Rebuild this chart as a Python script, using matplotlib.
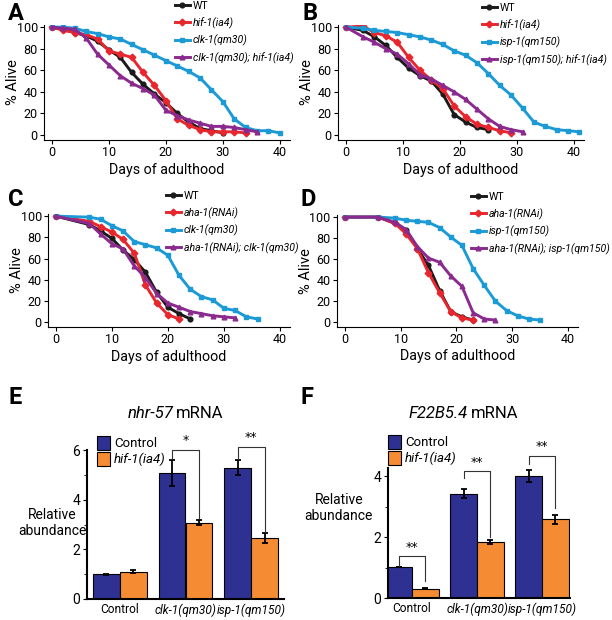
import numpy as np
import matplotlib
matplotlib.use('Agg')
import matplotlib.pyplot as plt
from matplotlib.patches import Patch

plt.rcParams['font.family'] = ['Roboto', 'DejaVu Sans']

# colours
BLACK = '#1a1a1a'
RED = '#e8262d'
BLUE = '#1b9ad6'
PURPLE = '#8b2a8e'
NAVY = '#2e3192'
ORANGE = '#f58b33'

# ---- panel A: clk-1 / hif-1 lifespan
a_days_wt = [0, 2, 4, 6, 8, 10, 12, 14, 16, 18, 20, 22, 24, 26, 28, 30]
a_wt = [100, 98, 95, 92, 87, 79, 72, 58, 47, 38, 30, 20, 12, 6, 4, 2]
a_days_hif = [0, 2, 4, 6, 8, 10, 12, 14, 16, 18, 20, 22, 24, 26, 28, 30, 32, 34]
a_hif = [100, 97, 95, 93, 89, 78, 75, 72, 58, 46, 32, 15, 9, 5, 3, 3, 3, 2]
a_days_clk = [0, 2, 4, 6, 8, 10, 12, 14, 16, 18, 20, 22, 24, 26, 28, 30, 32, 34, 36, 38, 40]
a_clk = [100, 100, 99, 96, 94, 91, 89, 84, 79, 74, 69, 64, 59, 53, 42, 31, 15, 7, 4, 4, 2]
a_days_dbl = [0, 2, 4, 6, 8, 10, 12, 14, 16, 18, 20, 22, 24, 26, 28, 30, 32, 34, 36]
a_dbl = [100, 99, 98, 90, 75, 65, 55, 48, 43, 37, 23, 18, 14, 11, 8, 8, 7, 5, 3]

# ---- panel B: isp-1 / hif-1 lifespan
b_days_wt = [0, 3, 5, 7, 9, 11, 13, 15, 17, 19, 21, 23, 25]
b_wt = [100, 97, 91, 83, 72, 62, 55, 50, 38, 19, 12, 7, 5]
b_days_hif = [0, 3, 5, 7, 9, 11, 13, 15, 17, 19, 21, 23, 25, 27, 29]
b_hif = [100, 101, 95, 92, 86, 72, 60, 51, 43, 27, 17, 10, 7, 4, 2]
b_days_isp = [0, 3, 5, 7, 9, 11, 13, 15, 17, 19, 21, 23, 25, 27, 29, 31, 33, 35, 37, 39, 41]
b_isp = [100, 99, 97, 96, 95, 93, 91, 88, 84, 78, 74, 67, 57, 46, 37, 25, 12, 8, 5, 4, 3]
b_days_dbl = [0, 3, 5, 7, 9, 11, 13, 15, 17, 19, 21, 23, 25, 27, 29, 31]
b_dbl = [100, 91, 86, 80, 75, 66, 56, 52, 46, 40, 33, 24, 15, 8, 5, 3]

# ---- panel C: aha-1 RNAi / clk-1
c_days_wt = [0, 6, 8, 10, 12, 14, 16, 18, 20, 22, 24]
c_wt = [100, 92, 86, 79, 68, 59, 47, 28, 14, 8, 3]
c_days_aha = [0, 6, 8, 10, 12, 14, 16, 18, 20, 22]
c_aha = [100, 95, 90, 85, 78, 65, 35, 18, 7, 3]
c_days_clk = [0, 6, 8, 10, 12, 14, 16, 18, 20, 22, 24, 26, 28, 30, 32, 34, 36]
c_clk = [100, 99, 97, 91, 86, 76, 73, 70, 63, 44, 31, 24, 21, 13, 11, 5, 3]
c_days_dbl = [0, 6, 8, 10, 12, 14, 16, 18, 20, 22, 24, 26, 28, 30, 32]
c_dbl = [100, 93, 83, 74, 69, 53, 42, 27, 18, 14, 10, 8, 6, 5, 4]

# ---- panel D: aha-1 RNAi / isp-1
d_days_wt = [0, 6, 9, 11, 13, 15, 17, 19, 21, 23]
d_wt = [100, 100, 94, 88, 70, 54, 30, 10, 5, 2]
d_days_aha = [0, 6, 9, 11, 13, 15, 17, 19, 21, 23]
d_aha = [100, 100, 94, 84, 70, 47, 28, 10, 4, 2]
d_days_isp = [0, 6, 9, 11, 13, 15, 17, 19, 21, 23, 25, 27, 29, 31, 33, 35]
d_isp = [100, 100, 99, 97, 96, 95, 90, 81, 73, 51, 35, 20, 11, 6, 3, 2]
d_days_dbl = [0, 6, 9, 11, 13, 15, 17, 19, 21, 23, 25, 27]
d_dbl = [100, 100, 95, 88, 72, 61, 57, 44, 34, 9, 3, 2]

# ---- panels E/F: qPCR
groups = ['Control', 'clk-1(qm30)', 'isp-1(qm150)']
e_ctrl = [1.0, 5.09, 5.29]
e_ctrl_err = [0.02, 0.52, 0.3]
e_hif = [1.1, 3.08, 2.45]
e_hif_err = [0.06, 0.12, 0.2]
f_ctrl = [1.02, 3.43, 4.0]
f_ctrl_err = [0.01, 0.15, 0.2]
f_hif = [0.31, 1.83, 2.58]
f_hif_err = [0.02, 0.07, 0.15]

W, H = 612, 620
fig = plt.figure(figsize=(W / 100, H / 100), dpi=100)


def px_axes(x0, y0, x1, y1):
    return fig.add_axes([x0 / W, 1 - y1 / H, (x1 - x0) / W, (y1 - y0) / H])


def survival(ax, series, labels, leg_xy):
    styles = [(BLACK, 'o'), (RED, 'D'), (BLUE, 's'), (PURPLE, '^')]
    handles = []
    for (days, vals), (col, mk), lab in zip(series, styles, labels):
        h, = ax.plot(days, vals, color=col, marker=mk, ms=3.4, lw=2.1,
                     label=lab, zorder=3)
        handles.append(h)
    for s in ['top', 'right']:
        ax.spines[s].set_visible(False)
    ax.set_xlim(-1.4, 41.8)
    ax.set_ylim(-4.6, 102)
    ax.set_xticks([0, 10, 20, 30, 40])
    ax.set_yticks([0, 20, 40, 60, 80, 100])
    ax.tick_params(labelsize=9, length=3, pad=1.5)
    ax.set_ylabel('% Alive', fontsize=10.5)
    ax.set_xlabel('Days of adulthood', fontsize=10.3)
    ax.yaxis.set_label_coords(-0.098, 0.5)
    ax.xaxis.set_label_coords(0.5, -0.2)
    leg = fig.legend(handles=handles, loc='upper left',
                     bbox_to_anchor=(leg_xy[0] / W, 1 - leg_xy[1] / H),
                     frameon=False, fontsize=7.6, handlelength=1.4,
                     handletextpad=0.3, labelspacing=0.57, borderaxespad=0,
                     borderpad=0)
    for t, lab in zip(leg.get_texts(), labels):
        if lab != 'WT':
            t.set_style('italic')


axA = px_axes(44, 25, 290, 140)
survival(axA, [(a_days_wt, a_wt), (a_days_hif, a_hif), (a_days_clk, a_clk),
               (a_days_dbl, a_dbl)],
         ['WT', 'hif-1(ia4)', 'clk-1(qm30)', 'clk-1(qm30); hif-1(ia4)'],
         (175, 1))

axB = px_axes(338, 25, 584, 140)
survival(axB, [(b_days_wt, b_wt), (b_days_hif, b_hif), (b_days_isp, b_isp),
               (b_days_dbl, b_dbl)],
         ['WT', 'hif-1(ia4)', 'isp-1(qm150)', 'isp-1(qm150); hif-1(ia4)'],
         (482, 3))

axC = px_axes(48, 214, 290, 327)
survival(axC, [(c_days_wt, c_wt), (c_days_aha, c_aha), (c_days_clk, c_clk),
               (c_days_dbl, c_dbl)],
         ['WT', 'aha-1(RNAi)', 'clk-1(qm30)', 'aha-1(RNAi); clk-1(qm30)'],
         (166, 191))

axD = px_axes(337, 215, 578, 327)
survival(axD, [(d_days_wt, d_wt), (d_days_aha, d_aha), (d_days_isp, d_isp),
               (d_days_dbl, d_dbl)],
         ['WT', 'aha-1(RNAi)', 'isp-1(qm150)', 'aha-1(RNAi); isp-1(qm150)'],
         (471, 192))


def bars(ax, ctrl, ctrl_err, hif, hif_err, ymax, yticks, brackets):
    x = np.arange(len(groups))
    w = 0.41
    ax.bar(x - w / 2, ctrl, w, color=NAVY, edgecolor='black', lw=0.8,
           yerr=ctrl_err, error_kw=dict(ecolor='black', elinewidth=1.3,
                                        capsize=2.2, capthick=1.3))
    ax.bar(x + w / 2, hif, w, color=ORANGE, edgecolor='black', lw=0.8,
           yerr=hif_err, error_kw=dict(ecolor='black', elinewidth=1.3,
                                       capsize=2.2, capthick=1.3))
    for i, ytop, ylo_l, ylo_r, txt in brackets:
        xl, xr = i - w / 2, i + w / 2
        ax.plot([xl, xl, xr, xr], [ylo_l, ytop, ytop, ylo_r], color='#333333',
                lw=0.8, clip_on=False)
        ax.text(i, ytop + 0.02 * ymax, txt, ha='center', va='bottom',
                fontsize=9, family='DejaVu Sans', clip_on=False)
    for s in ['top', 'right']:
        ax.spines[s].set_visible(False)
    ax.spines['left'].set_linewidth(1.5)
    ax.spines['bottom'].set_linewidth(1.5)
    ax.set_ylim(0, ymax)
    ax.set_yticks(yticks)
    ax.set_yticks(np.arange(1, ymax, 2), minor=True)
    ax.tick_params(labelsize=10, length=3, pad=2)
    ax.tick_params(axis='x', length=0, pad=3)
    ax.tick_params(which='minor', length=2)
    ax.set_xticks(x)
    ax.set_xticklabels(groups, fontsize=8.6)
    for t in ax.get_xticklabels()[1:]:
        t.set_style('italic')
    ax.set_ylabel('Relative\nabundance', rotation=0, fontsize=10,
                  ha='center', va='center', linespacing=1.15)


axE = px_axes(87, 450, 284, 599)
axE.set_xlim(-0.5, 2.5)
bars(axE, e_ctrl, e_ctrl_err, e_hif, e_hif_err, 6.0, [0, 2, 4, 6],
     [(1, 6.02, 5.66, 3.25, '*'), (2, 6.13, 5.65, 2.7, '**')])
axE.yaxis.set_label_coords(-0.175, 0.51)

axF = px_axes(388, 468, 570, 598)
axF.set_xlim(-0.37, 2.43)
bars(axF, f_ctrl, f_ctrl_err, f_hif, f_hif_err, 4.27, [0, 2, 4],
     [(0, 1.37, 1.05, 0.55, '**'), (1, 4.16, 3.95, 2.0, '**'),
      (2, 4.68, 4.4, 2.95, '**')])
axF.yaxis.set_label_coords(-0.27, 0.69)

leg_handles = [Patch(facecolor=NAVY, edgecolor='black', lw=0.8),
               Patch(facecolor=ORANGE, edgecolor='black', lw=0.8)]
for lx, ly in [(97, 436), (388, 435)]:
    lg = fig.legend(leg_handles, ['Control', 'hif-1(ia4)'], loc='upper left',
                    bbox_to_anchor=(lx / W, 1 - ly / H), frameon=False,
                    fontsize=9.5, handlelength=1.0, handleheight=1.2,
                    handletextpad=0.3, labelspacing=0.15, borderaxespad=0,
                    borderpad=0)
    lg.get_texts()[1].set_style('italic')

fig.text(173 / W, 1 - 413 / H, 'nhr-57', fontsize=12, style='italic',
         ha='right', va='center')
fig.text(176 / W, 1 - 413 / H, 'mRNA', fontsize=12, ha='left', va='center')
fig.text(468 / W, 1 - 413 / H, 'F22B5.4', fontsize=12, style='italic',
         ha='right', va='center')
fig.text(471 / W, 1 - 413 / H, 'mRNA', fontsize=12, ha='left', va='center')

for letter, lx, ly in [('A', 8, 14), ('B', 302, 14), ('C', 8, 200),
                       ('D', 300, 200), ('E', 8, 398), ('F', 300, 398)]:
    fig.text(lx / W, 1 - ly / H, letter, fontsize=17, fontweight='bold',
             ha='left', va='center')

fig.savefig('out.png', dpi=100)
